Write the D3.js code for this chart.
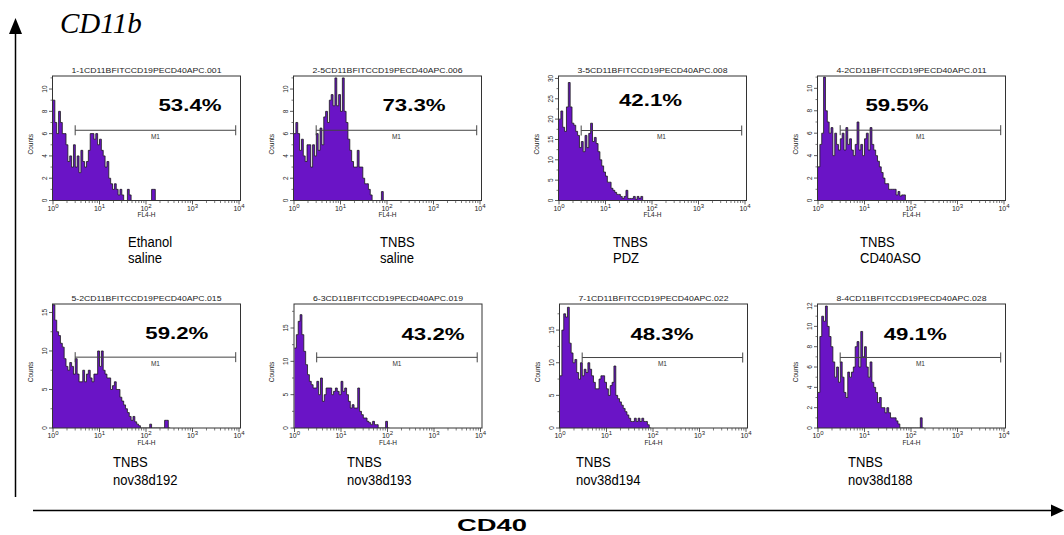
<!DOCTYPE html>
<html><head><meta charset="utf-8">
<script src="https://cdn.jsdelivr.net/npm/d3@7"></script>
<style>body{margin:0;background:#fff}svg{display:block}</style>
</head><body>
<svg id="c" width="1064" height="535"></svg>
<script>
// ---------------- data ----------------
const panelTitles = [
  "1-1CD11BFITCCD19PECD40APC.001", "2-5CD11BFITCCD19PECD40APC.006",
  "3-5CD11BFITCCD19PECD40APC.008", "4-2CD11BFITCCD19PECD40APC.011",
  "5-2CD11BFITCCD19PECD40APC.015", "6-3CD11BFITCCD19PECD40APC.019",
  "7-1CD11BFITCCD19PECD40APC.022", "8-4CD11BFITCCD19PECD40APC.028"
];
const groupLine1 = ["Ethanol", "TNBS", "TNBS", "TNBS", "TNBS", "TNBS", "TNBS", "TNBS"];
const groupLine2 = ["saline", "saline", "PDZ", "CD40ASO", "nov38d192", "nov38d193", "nov38d194", "nov38d188"];
const percentLabels = ["53.4%", "73.3%", "42.1%", "59.5%", "59.2%", "43.2%", "48.3%", "49.1%"];
const yMaxValues = [11.17, 11.17, 30.6, 11.1, 16.1, 18.6, 19.0, 12.2];
const yTickSteps = [2, 2, 5, 2, 5, 5, 5, 2];
const markerLevels = [6.3, 6.3, 17.2, 6.27, 9.2, 10.6, 10.8, 6.94];
const markerRange = [3, 8500];
const xDecades = [0, 1, 2, 3, 4];
const binWidthDecades = 0.04;
const xAxisName = "FL4-H";
const yAxisName = "Counts";
const markerName = "M1";

const counts1 = [9,7,6,8,7,6,6,5,3.5,4, 3,5,3,4,2.5,4.5,3.5,3,3.5,4.5, 6,6,5.5,6,5,5.5,4.5,4,3,3.5,
  2,1.5,1,1.5,1,0.5,1,0.5,0,0, 1,0.5,0,0,0,0,0,0,0,0, 0,0,0,1,1,0];
const counts2 = [6,7,6,4.5,5.5,4,3.5,5,5,3, 5,4,6,4.5,6.5,5,7.5,8,7,9, 9.5,8.5,11,8.5,9.5,8,11,8,7,5.5,
  4.5,3.5,3,3,4.5,3,3,2,1.5,1.5, 1,0.5,0,0,0,0,0,0.8,0];
const counts3 = [20,22,18,17,23,29,23,19,18.5,17, 16,13,14.5,12,16,13,16.5,19,14.5,15.5, 14,12,10,8.5,7,6,4.5,4.5,3,2.5,
  2,1.5,1.5,1,0.5,1,2.5,0.5,0.5,0.5, 1,0.3,1,0.5,1,0];
const counts4 = [3,5,6,11,8,7,6,6.5,4,6, 5,4.5,5.5,6,4.5,6.5,5,5.5,4.5,4, 5,7,4.5,5,4,5.5,6,4.5,6.5,5,
  4.5,4,3.5,3,2.5,2,1.5,1.5,1,1, 1,1,0.5,0.8,0.4,0.5,0.5,0];
const counts5 = [16,14,12.5,12,11,10.5,9,8,7.5,8.5, 8,7,9,7,6,6,7.5,6,7,7.5, 6.5,6,7,7,10,8,10,7.5,7,6.5,
  6.5,5,5.5,6,5,5,4,3.5,3,2.5, 2,1.5,1,1.5,0.8,0.5,0.3,0,0,0, 0,0,0.5,0,0,0,0,0,0,0, 1,1,0];
const counts6 = [12,14,16,17,14,11.5,9.5,8,7,6.5, 6,6,7,5,7.5,4,5,6,6,6, 5,5.5,6,5.5,5,7,5.5,6,5,4,
  3,3.5,3,3,6,2.5,2,1.5,1.5,1, 0.8,0.5,1,0.5,0.5,0,0,0,0,1, 0];
const counts7 = [8,15,17.5,17,18.5,13,11.5,10,10.5,8.5, 7.5,10,8,9,8.5,10,9,8,7,6, 6,7.5,8,8,7,6,5,6.5,7,9.5,
  5,4.5,4,3.5,3,2.5,2,1.5,1,1, 1.5,1,1.5,1,1.5,1,1,0.5,0];
const counts8 = [3.5,9,11,10.5,12,10,9,8,6.5,5, 6,4.5,6.5,5,3.5,3,5.5,5,5.5,6, 8,8.5,6,9.5,7,8,6,5,6.5,4.5,
  4,3.5,2.5,3,2,2,1.5,2,1.5,1, 1,1,0.7,0.4,0,0,0,0,0,0, 0,0,0,0,0,1,0];
const allCounts = [counts1, counts2, counts3, counts4, counts5, counts6, counts7, counts8];

// ---------------- layout ----------------
const rowTop = [76, 304], rowBottom = [200.5, 428];
const panelX0 = [52.5, 293.5, 558.5, 817.5, 52.5, 294, 559.5, 817.5];
const axisSpan = 186, frameW = 188;
const pctOffset = [[137.5,111],[120.5,110.7],[92,105.7],[79.4,111],[124.3,339],[139,340],[102.4,340],[97.7,340]];
const groupPos = [[128,247,263],[380,247,263],[613,247,263],[860,247,263],[113,467,485],[347,467,485],[576,467,485],[848,467,485]];
const PURPLE = "#6a14c6";

const svg = d3.select("#c");
const defs = svg.append("defs");
const sans = "'Liberation Sans', Arial, sans-serif";

allCounts.forEach((counts, p) => {
  const row = p < 4 ? 0 : 1;
  const x0 = panelX0[p], top = rowTop[row], bottom = rowBottom[row];
  const x = d3.scaleLog().domain([1, 1e4]).range([x0 + 0.5, x0 + 0.5 + axisSpan]);
  const y = d3.scaleLinear().domain([0, yMaxValues[p]]).range([bottom, top]);
  const g = svg.append("g");

  defs.append("clipPath").attr("id", "clip" + p).append("rect")
    .attr("x", x0).attr("y", top).attr("width", frameW).attr("height", bottom - top);

  // histogram
  const pts = counts.map((v, i) => ({d: i * binWidthDecades, v}));
  pts.push({d: counts.length * binWidthDecades, v: counts[counts.length - 1]});
  const area = d3.area().curve(d3.curveStepAfter)
    .x(d => x(Math.pow(10, d.d))).y0(bottom).y1(d => y(d.v));
  const line = d3.line().curve(d3.curveStepAfter)
    .x(d => x(Math.pow(10, d.d))).y(d => y(d.v));
  const hg = g.append("g").attr("clip-path", `url(#clip${p})`);
  hg.append("path").datum(pts).attr("d", area).attr("fill", PURPLE);
  hg.append("path").datum(pts).attr("d", line).attr("fill", "none")
    .attr("stroke", "#1b1b1b").attr("stroke-width", 0.8);

  // frame
  g.append("rect").attr("x", x0).attr("y", top).attr("width", frameW).attr("height", bottom - top)
    .attr("fill", "none").attr("stroke", "#333").attr("stroke-width", 1);

  // x axis ticks (log)
  const minor = [];
  for (let d = 0; d < 4; d++) for (let k = 2; k <= 9; k++) minor.push(k * Math.pow(10, d));
  g.selectAll(null).data(minor).enter().append("line")
    .attr("x1", d => x(d)).attr("x2", d => x(d)).attr("y1", bottom).attr("y2", bottom + 2.5)
    .attr("stroke", "#444").attr("stroke-width", 0.7);
  g.selectAll(null).data(xDecades).enter().append("line")
    .attr("x1", d => x(Math.pow(10, d))).attr("x2", d => x(Math.pow(10, d)))
    .attr("y1", bottom).attr("y2", bottom + 4).attr("stroke", "#333").attr("stroke-width", 0.8);
  const xl = g.selectAll(null).data(xDecades).enter().append("text")
    .attr("x", d => x(Math.pow(10, d))).attr("y", bottom + 10)
    .attr("text-anchor", "middle").attr("font-family", sans).attr("font-size", 7).attr("fill", "#222");
  xl.append("tspan").text("10");
  xl.append("tspan").attr("dy", -3).attr("font-size", 6).text(d => d);
  g.append("text").attr("x", x0 + frameW / 2).attr("y", bottom + 16.5).attr("text-anchor", "middle")
    .attr("font-family", sans).attr("font-size", 6.5).attr("fill", "#222").text(xAxisName);

  // y axis ticks
  const step = yTickSteps[p];
  const major = d3.range(0, yMaxValues[p] + 0.001, step);
  const minorY = d3.range(step / 2, yMaxValues[p], step);
  g.selectAll(null).data(minorY).enter().append("line")
    .attr("x1", x0 - 2).attr("x2", x0).attr("y1", d => y(d)).attr("y2", d => y(d))
    .attr("stroke", "#444").attr("stroke-width", 0.7);
  g.selectAll(null).data(major).enter().append("line")
    .attr("x1", x0 - 3.5).attr("x2", x0).attr("y1", d => y(d)).attr("y2", d => y(d))
    .attr("stroke", "#333").attr("stroke-width", 0.8);
  g.selectAll(null).data(major).enter().append("text")
    .attr("transform", d => `translate(${x0 - 6},${y(d)}) rotate(-90)`)
    .attr("text-anchor", "middle").attr("font-family", sans).attr("font-size", 6.5).attr("fill", "#222")
    .text(d => d);
  g.append("text").attr("transform", `translate(${x0 - 20},${(top + bottom) / 2 + 6}) rotate(-90)`)
    .attr("text-anchor", "middle").attr("font-family", sans).attr("font-size", 6.5).attr("fill", "#222")
    .text(yAxisName);

  // title
  g.append("text").attr("x", x0 + frameW / 2).attr("y", top - 3.5).attr("text-anchor", "middle")
    .attr("font-family", sans).attr("font-size", 7.5).attr("fill", "#222")
    .attr("textLength", 150).attr("lengthAdjust", "spacingAndGlyphs").text(panelTitles[p]);

  // marker M1
  const my = y(markerLevels[p]);
  const mx1 = x(markerRange[0]), mx2 = x(markerRange[1]);
  g.append("line").attr("x1", mx1).attr("x2", mx2).attr("y1", my).attr("y2", my)
    .attr("stroke", "#444").attr("stroke-width", 1);
  [mx1, mx2].forEach(mx => g.append("line").attr("x1", mx).attr("x2", mx)
    .attr("y1", my - 5).attr("y2", my + 5).attr("stroke", "#444").attr("stroke-width", 1));
  g.append("text").attr("x", (mx1 + mx2) / 2).attr("y", my + 8.5).attr("text-anchor", "middle")
    .attr("font-family", sans).attr("font-size", 6.5).attr("fill", "#333").text(markerName);

  // percent
  g.append("text").attr("x", x0 + pctOffset[p][0]).attr("y", pctOffset[p][1]).attr("text-anchor", "middle")
    .attr("font-family", sans).attr("font-weight", "bold").attr("font-size", 17).attr("fill", "#000")
    .attr("textLength", 63).attr("lengthAdjust", "spacingAndGlyphs").text(percentLabels[p]);

  // group labels
  const gp = groupPos[p];
  [[groupLine1[p], gp[1]], [groupLine2[p], gp[2]]].forEach(([t, yy]) => {
    svg.append("text").attr("transform", `translate(${gp[0]},${yy}) scale(0.87,1)`)
      .attr("font-family", sans).attr("font-size", 15).attr("fill", "#000").text(t);
  });
});

// big axes
svg.append("line").attr("x1", 15.5).attr("x2", 15.5).attr("y1", 497).attr("y2", 30).attr("stroke", "#000").attr("stroke-width", 1.5);
svg.append("path").attr("d", "M15.5,18 L9,34 L22,34 Z").attr("fill", "#000");
svg.append("line").attr("x1", 33).attr("x2", 1053).attr("y1", 510.5).attr("y2", 510.5).attr("stroke", "#000").attr("stroke-width", 1.5);
svg.append("path").attr("d", "M1064,510.5 L1051,504.5 L1051,516.5 Z").attr("fill", "#000");
svg.append("text").attr("x", 60).attr("y", 33).attr("font-family", "'Liberation Serif', 'Times New Roman', serif")
  .attr("font-style", "italic").attr("font-size", 29).attr("fill", "#000").text("CD11b");
svg.append("text").attr("x", 492).attr("y", 531).attr("text-anchor", "middle")
  .attr("font-family", sans).attr("font-weight", "bold").attr("font-size", 17).attr("fill", "#000")
  .attr("textLength", 70).attr("lengthAdjust", "spacingAndGlyphs").text("CD40");
</script>
</body></html>
